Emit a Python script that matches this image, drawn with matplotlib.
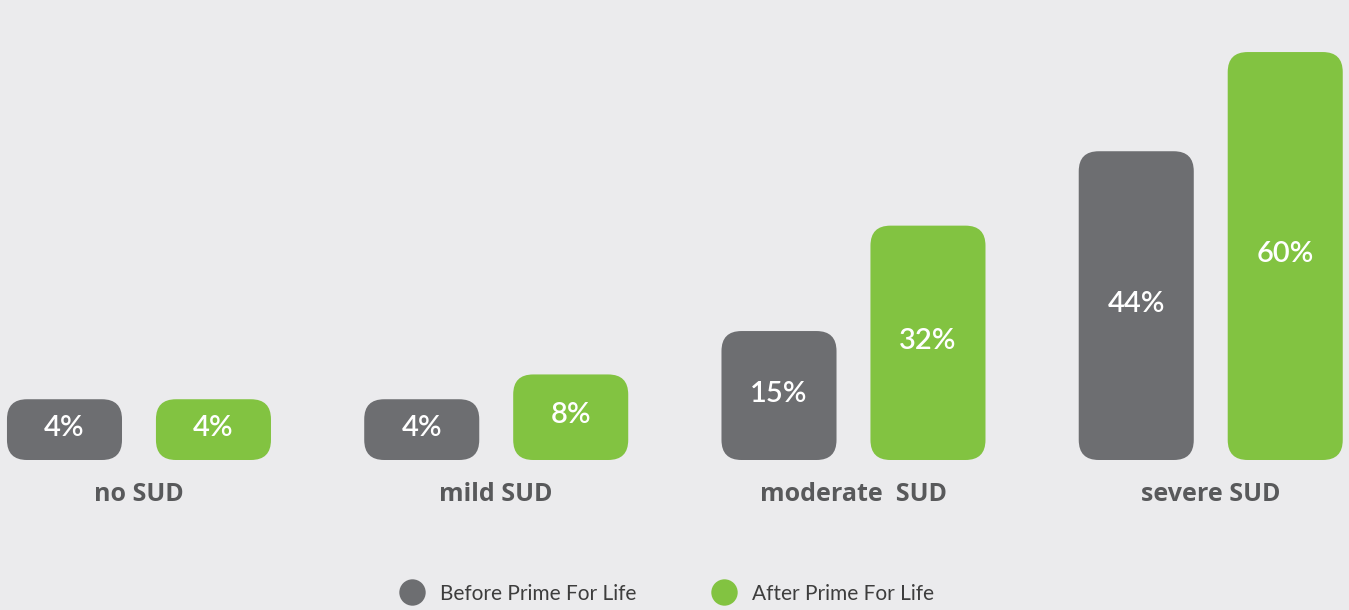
import numpy as np
import matplotlib.pyplot as plt
from matplotlib.patches import FancyBboxPatch
from matplotlib.lines import Line2D

# data
categories = ['no SUD', 'mild SUD', 'moderate  SUD', 'severe SUD']
before_pct = [4, 4, 15, 44]
after_pct = [4, 8, 32, 60]
series_labels = ['Before Prime For Life', 'After Prime For Life']

gray = '#6d6e71'
green = '#82c341'
bg = '#ebebed'
label_gray = '#58595b'

W, H = 1349, 610
fig = plt.figure(figsize=(W / 100, H / 100), dpi=100, facecolor=bg)
ax = fig.add_axes([0, 0, 1, 1])
ax.set_facecolor(bg)
ax.axis('off')

# scale: ~6.2 px per percent, bars get a small floor so short ones hold their label
px_per_pct = 6.2
floor = 5.8
base_px = 150  # baseline height above figure bottom
ax.set_ylim(-floor - base_px / px_per_pct, -floor + (H - base_px) / px_per_pct)
ax.set_xlim(-0.389, 3.387)

x = np.arange(len(categories))
width = 0.322
off = 0.2085

bars_b = ax.bar(x - off, np.array(before_pct) + floor, width, bottom=-floor, color=gray)
bars_a = ax.bar(x + off, np.array(after_pct) + floor, width, bottom=-floor, color=green)

# swap plain bars for rounded ones
x_per_px = (ax.get_xlim()[1] - ax.get_xlim()[0]) / W
y_per_px = (ax.get_ylim()[1] - ax.get_ylim()[0]) / H
radius = 20 * x_per_px
aspect = y_per_px / x_per_px

for bars, vals, col in [(bars_b, before_pct, gray), (bars_a, after_pct, green)]:
    for bar, v in zip(bars, vals):
        bx, by = bar.get_x(), bar.get_y()
        bw, bh = bar.get_width(), bar.get_height()
        bar.set_visible(False)
        ax.add_patch(FancyBboxPatch((bx, by), bw, bh,
                                    boxstyle=f'round,pad=0,rounding_size={radius}',
                                    mutation_aspect=aspect, facecolor=col,
                                    edgecolor='none'))
        ax.text(bx + bw / 2, by + bh / 2 + 0.3, f'{v}%', ha='center', va='center',
                color='white', fontsize=21, fontweight='semibold', family='Lato')

for i, cat in enumerate(categories):
    ax.text(x[i], 0.189, cat, transform=ax.get_xaxis_transform(), ha='center',
            va='center', fontsize=18, fontweight='bold', color=label_gray,
            family='Open Sans')

handles = [Line2D([], [], marker='o', linestyle='none', markersize=19,
                  markerfacecolor=c, markeredgecolor='none') for c in (gray, green)]
fig.legend(handles, series_labels, loc='center', bbox_to_anchor=(0.495, 0.027),
           ncol=2, frameon=False, handletextpad=0.8, columnspacing=3.75,
           handlelength=1.0, labelcolor='#3d3d3d',
           prop={'family': 'Lato', 'size': 15})

fig.savefig('out.png', dpi=100, facecolor=bg)
